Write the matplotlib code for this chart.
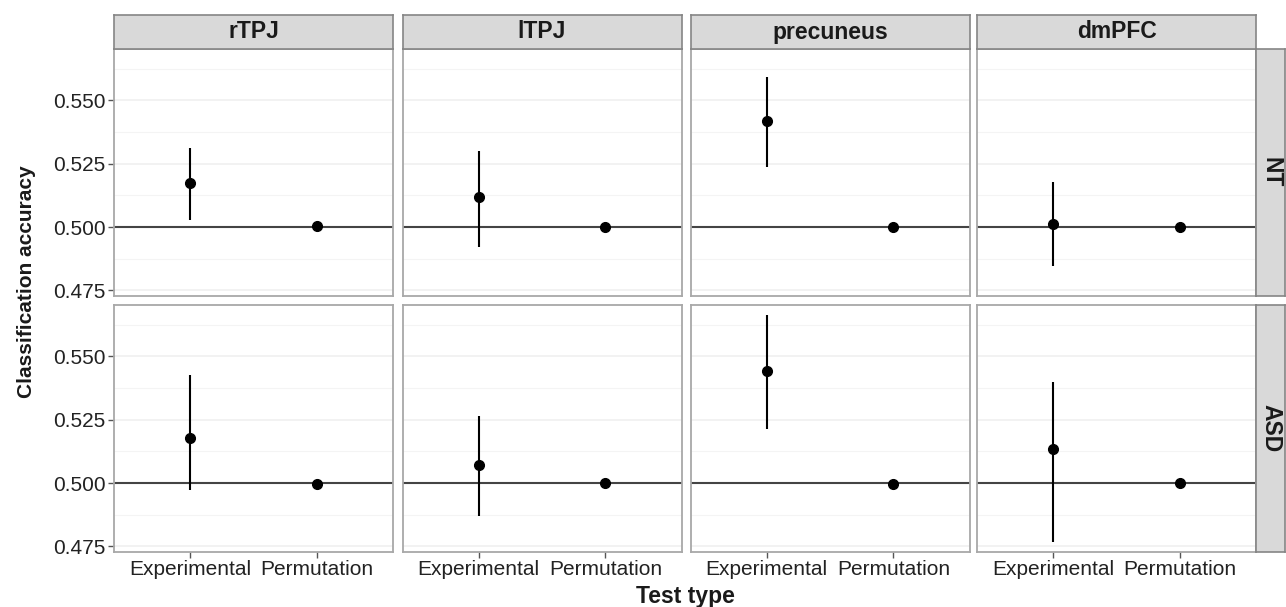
import numpy as np
import matplotlib
matplotlib.use("Agg")
import matplotlib.pyplot as plt

plt.rcParams['font.family'] = ['Liberation Sans', 'DejaVu Sans']

regions = ["rTPJ", "lTPJ", "precuneus", "dmPFC"]
groups = ["NT", "ASD"]
test_types = ["Experimental", "Permutation"]

# experimental accuracy with error bar (low, high), per group and region
exp_mean = {"NT": [0.5174, 0.5118, 0.5419, 0.5012],
            "ASD": [0.5179, 0.5073, 0.5444, 0.5136]}
exp_low = {"NT": [0.5028, 0.4920, 0.5237, 0.4846],
           "ASD": [0.4971, 0.4870, 0.5214, 0.4768]}
exp_high = {"NT": [0.5312, 0.5300, 0.5592, 0.5178],
            "ASD": [0.5426, 0.5263, 0.5664, 0.5401]}
perm_mean = {"NT": [0.5003, 0.5000, 0.5001, 0.5000],
             "ASD": [0.4996, 0.5001, 0.4998, 0.4999]}

W, H = 1286, 607
fig = plt.figure(figsize=(W / 100, H / 100), dpi=100)

panel_left = [114, 402.5, 690.5, 977]
panel_w = 279
row_top = [49, 305]
panel_h = 247
strip_h = 34
rstrip_w = 29

ylim = (0.4728, 0.5703)
border = "#a8a8a8"
strip_col = "#d9d9d9"
text_col = "#1a1a1a"


def fig_rect(x, y, w, h):
    return [x / W, 1 - (y + h) / H, w / W, h / H]


def style_strip(sax):
    sax.set_xticks([])
    sax.set_yticks([])
    sax.set_facecolor(strip_col)
    for s in sax.spines.values():
        s.set_color("#858585")
        s.set_linewidth(1.2)


for r, g in enumerate(groups):
    for c, reg in enumerate(regions):
        ax = fig.add_axes(fig_rect(panel_left[c], row_top[r], panel_w, panel_h))
        ax.set_xlim(0.4, 2.6)
        ax.set_ylim(*ylim)
        ax.set_yticks([0.475, 0.500, 0.525, 0.550])
        ax.set_yticks([0.4875, 0.5125, 0.5375, 0.5625], minor=True)
        ax.grid(True, which="major", axis="y", color="#efefef", lw=1.1)
        ax.grid(True, which="minor", axis="y", color="#f4f4f4", lw=0.8)
        ax.set_axisbelow(True)
        for s in ax.spines.values():
            s.set_color(border)
            s.set_linewidth(1.3)
        ax.tick_params(axis="both", which="major", color="#555555", length=4,
                       width=1, labelsize=15, labelcolor="#222222", pad=2)
        ax.tick_params(axis="y", which="minor", length=0)
        ax.axhline(0.5, color="#444444", lw=1.5, zorder=1)

        m = exp_mean[g][c]
        ax.vlines(1, exp_low[g][c], exp_high[g][c], color="black", lw=1.5, zorder=2)
        ax.plot([1, 2], [m, perm_mean[g][c]], "o", color="black", ms=7, ls="none", zorder=3)

        ax.set_xticks([1, 2])
        if r == 1:
            ax.set_xticklabels(test_types)
        else:
            ax.set_xticklabels([])
            ax.tick_params(axis="x", length=0)
        if c == 0:
            ax.set_yticklabels(["0.475", "0.500", "0.525", "0.550"])
        else:
            ax.set_yticklabels([])
            ax.tick_params(axis="y", length=0)

        # top strips
        if r == 0:
            sax = fig.add_axes(fig_rect(panel_left[c], row_top[0] - strip_h, panel_w, strip_h))
            style_strip(sax)
            sax.text(0.5, 0.5, reg, ha="center", va="center", fontsize=16.5,
                     fontweight="bold", color=text_col, transform=sax.transAxes)

    # right strips
    rax = fig.add_axes(fig_rect(panel_left[-1] + panel_w, row_top[r], rstrip_w, panel_h))
    style_strip(rax)
    rax.text(0.5, 0.5, g, ha="center", va="center", fontsize=16.5, fontweight="bold",
             rotation=-90, color=text_col, transform=rax.transAxes)

fig.text(27 / W, 1 - 282 / H, "Classification accuracy", rotation=90, ha="center",
         va="center", fontsize=15, fontweight="bold", color=text_col)
fig.text((114 + 1256) / 2 / W, 1 - 597 / H, "Test type", ha="center", va="center",
         fontsize=16.5, fontweight="bold", color=text_col)

fig.savefig("out.png", dpi=100)
